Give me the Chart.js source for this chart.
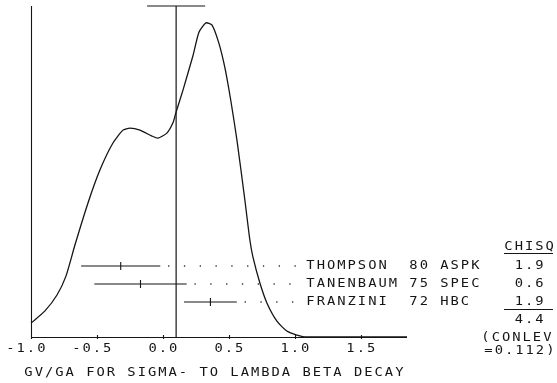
<!DOCTYPE html>
<html>
<head>
<meta charset="utf-8">
<script src="https://cdn.jsdelivr.net/npm/chart.js@4.4.1/dist/chart.umd.min.js"></script>
<style>
  html, body { margin: 0; padding: 0; background: #fff; }
  canvas { display: block; }
</style>
</head>
<body>
<canvas id="ideogram" width="557" height="383"></canvas>
<script>
// --- ideogram curve (x = gV/gA, y = relative height) ---
const curveX = [-1.0, -0.894, -0.803, -0.735, -0.667, -0.568, -0.477, -0.379, -0.303, -0.25, -0.174, -0.083, -0.038, 0.030, 0.076, 0.098, 0.152, 0.227, 0.273, 0.326, 0.371, 0.424, 0.470, 0.515, 0.561, 0.621, 0.659, 0.682, 0.735, 0.788, 0.864, 0.939, 1.015, 1.091, 1.85];
const curveY = [0.042, 0.079, 0.127, 0.184, 0.278, 0.405, 0.505, 0.586, 0.625, 0.631, 0.625, 0.607, 0.601, 0.616, 0.647, 0.677, 0.746, 0.849, 0.921, 0.949, 0.943, 0.888, 0.813, 0.713, 0.595, 0.414, 0.293, 0.242, 0.163, 0.103, 0.048, 0.018, 0.006, 0.0, 0.0];

// --- measurements ---
const expNames = ['THOMPSON', 'TANENBAUM', 'FRANZINI'];
const expYears = ['80', '75', '72'];
const expTechs = ['ASPK', 'SPEC', 'HBC'];
const expValues = [-0.32, -0.17, 0.36];
const expErrors = [0.30, 0.35, 0.20];
const expChisq = ['1.9', '0.6', '1.9'];
const chisqTotal = '4.4';
const confLevel = '0.112';

// weighted average (vertical line + bar on top)
const avgValue = 0.10;
const avgError = 0.22;

const xTicks = [-1.0, -0.5, 0.0, 0.5, 1.0, 1.5];
const xTitle = 'GV/GA FOR SIGMA- TO LAMBDA BETA DECAY';

const INK = '#151515';
const FONT = '12px "DejaVu Sans Mono", "Liberation Mono", monospace';
const PITCH = 10.3;
const HSCALE = 1.15;
const X_MIN = -1.0, X_MAX = 1.85;
const DOTS_END = 1.05;

function rowY(i) { return 0.2145 - i * 0.0544; }

function pad(s, n) { while (s.length < n) s += ' '; return s; }

// plotter-style text: every character on a fixed pitch, x0 = centre of first char
function drawMono(ctx, str, x0, y) {
    for (let k = 0; k < str.length; k++) {
        if (str[k] === ' ') continue;
        ctx.save();
        ctx.translate(x0 + k * PITCH, y);
        ctx.scale(HSCALE, 1);
        ctx.fillText(str[k], 0, 0);
        ctx.restore();
    }
}

const datasets = [];
datasets.push({
    data: curveX.map((x, i) => ({ x: x, y: curveY[i] })),
    showLine: true, borderColor: INK, borderWidth: 1.3, pointRadius: 0, tension: 0.2, clip: false
});
datasets.push({
    data: [{ x: avgValue, y: 0 }, { x: avgValue, y: 1 }],
    showLine: true, borderColor: INK, borderWidth: 1.2, pointRadius: 0, clip: false
});
datasets.push({
    data: [{ x: avgValue - avgError, y: 1 }, { x: avgValue + avgError, y: 1 }],
    showLine: true, borderColor: INK, borderWidth: 1.2, pointRadius: 0, clip: false
});
expValues.forEach((v, i) => {
    const y = rowY(i);
    datasets.push({
        data: [{ x: v - expErrors[i], y: y }, { x: v + expErrors[i], y: y }],
        showLine: true, borderColor: INK, borderWidth: 1.1, pointRadius: 0, clip: false
    });
    datasets.push({
        data: [{ x: v, y: y }],
        pointStyle: 'line', rotation: 90, pointRadius: 4, borderColor: INK, borderWidth: 1.1, clip: false
    });
    datasets.push({
        data: [{ x: v + expErrors[i], y: y }, { x: DOTS_END, y: y }],
        showLine: true, borderColor: '#333', borderWidth: 1.3, borderDash: [1.3, 14.5], borderDashOffset: 8, pointRadius: 0, clip: false
    });
});

const plotterPlugin = {
    id: 'plotter',
    afterDraw(chart) {
        const ctx = chart.ctx;
        const xs = chart.scales.x, ys = chart.scales.y;
        const area = chart.chartArea;
        ctx.save();
        ctx.strokeStyle = INK;
        ctx.fillStyle = INK;
        ctx.lineWidth = 1.1;

        // axes + ticks
        ctx.beginPath();
        ctx.moveTo(area.left + 0.5, area.top);
        ctx.lineTo(area.left + 0.5, area.bottom + 0.5);
        ctx.lineTo(area.right, area.bottom + 0.5);
        xTicks.forEach(v => {
            const px = Math.round(xs.getPixelForValue(v)) + 0.5;
            ctx.moveTo(px, area.bottom - 2);
            ctx.lineTo(px, area.bottom + 2);
        });
        ctx.stroke();

        ctx.font = FONT;
        ctx.textAlign = 'center';
        ctx.textBaseline = 'middle';

        // tick labels, decimal point under the tick
        xTicks.forEach(v => {
            const s = v.toFixed(1);
            const px = xs.getPixelForValue(v);
            drawMono(ctx, s, px - s.indexOf('.') * PITCH, area.bottom + 12);
        });
        drawMono(ctx, xTitle, 28.5, area.bottom + 36);

        // measurement labels + chisq column
        const labelLeft = 307;
        const chisqLeft = 505;
        expNames.forEach((n, i) => {
            const py = ys.getPixelForValue(rowY(i));
            drawMono(ctx, pad(n, 10) + expYears[i] + ' ' + expTechs[i], labelLeft + 3.5, py);
            drawMono(ctx, expChisq[i], chisqLeft + PITCH + 3.5, py);
        });
        const topRow = ys.getPixelForValue(rowY(0));
        const lastRow = ys.getPixelForValue(rowY(expNames.length - 1));
        drawMono(ctx, 'CHISQ', chisqLeft + 3.5, topRow - 19);
        drawMono(ctx, chisqTotal, chisqLeft + PITCH + 3.5, lastRow + 18);
        drawMono(ctx, '(CONLEV', 485.5, lastRow + 36);
        drawMono(ctx, '=' + confLevel + ')', 488.5, lastRow + 49);

        ctx.beginPath();
        ctx.moveTo(chisqLeft - 1, topRow - 12.5);
        ctx.lineTo(chisqLeft + 48, topRow - 12.5);
        ctx.moveTo(chisqLeft - 1, lastRow + 7.5);
        ctx.lineTo(chisqLeft + 48, lastRow + 7.5);
        ctx.stroke();
        ctx.restore();
    }
};

new Chart(document.getElementById('ideogram').getContext('2d'), {
    type: 'scatter',
    data: { datasets: datasets },
    options: {
        responsive: false,
        animation: false,
        layout: { padding: { left: 31, right: 150, top: 6, bottom: 46 } },
        scales: {
            x: { type: 'linear', min: X_MIN, max: X_MAX, display: false },
            y: { type: 'linear', min: 0, max: 1, display: false }
        },
        plugins: { legend: { display: false }, tooltip: { enabled: false } }
    },
    plugins: [plotterPlugin]
});
</script>
</body>
</html>
